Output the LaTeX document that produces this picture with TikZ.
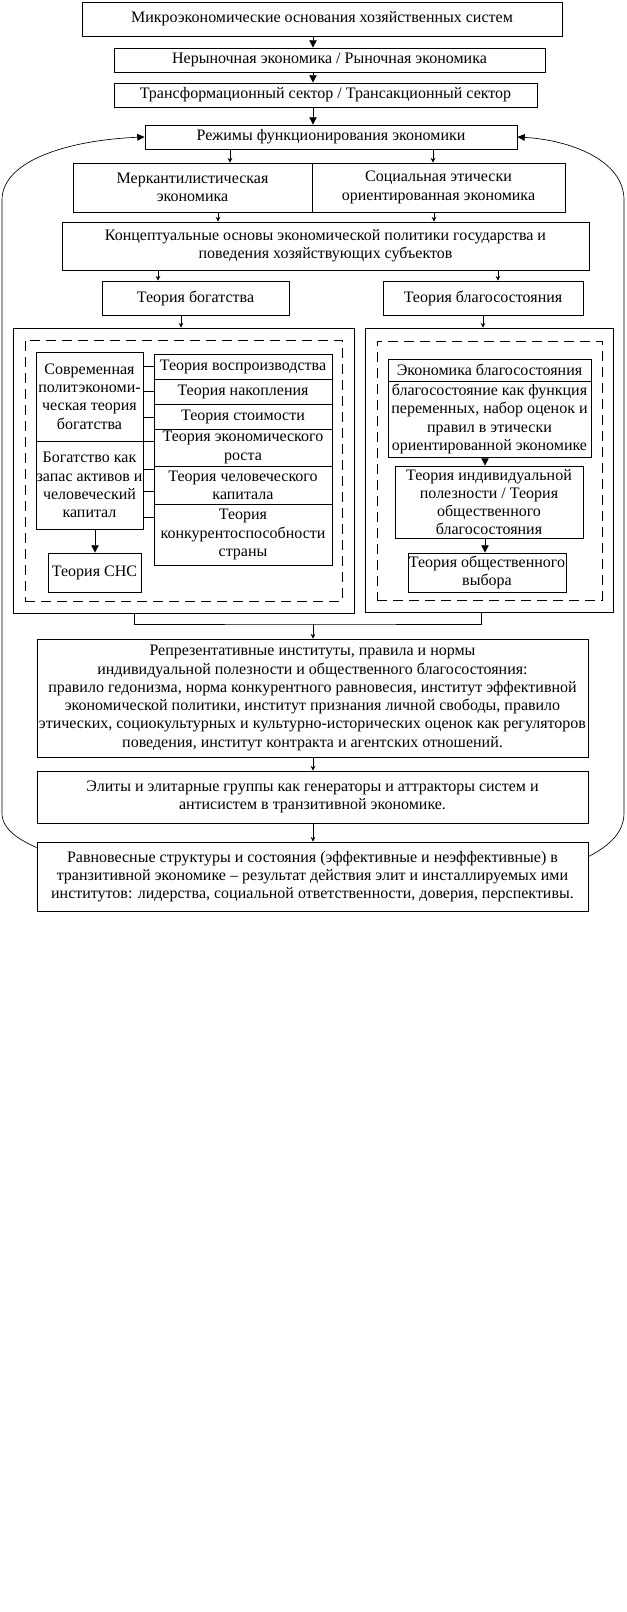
\documentclass[tikz,border=0pt]{standalone}
\usepackage{fontspec}
\setmainfont{Liberation Serif}
\usetikzlibrary{arrows.meta,calc}

\begin{document}
\begin{tikzpicture}[x=0.75pt,y=-0.75pt,
    box/.style={draw, line width=0.6pt, align=center, inner sep=0pt,
        font=\fontsize{12}{13.7}\selectfont},
    dashbox/.style={draw, line width=0.6pt, dash pattern=on 7.5pt off 4.5pt, inner sep=0pt},
    sz/.style 2 args={minimum width=#1*0.75pt, minimum height=#2*0.75pt},
    bigarr/.style={line width=0.6pt, -{Triangle[length=5.5pt,width=5.5pt]}},
    smallarr/.style={line width=0.5pt, -{Stealth[length=3.5pt,width=3.5pt]}},
    loop/.style={line width=0.5pt, -{Triangle[length=5.5pt,width=5pt]}}
]

\useasboundingbox[fill=white] (0,0) rectangle (626,1612);

% Upper chain
\node[box, sz={480}{34}] (micro) at (322,19) {Микроэкономические основания хозяйственных систем};
\node[box, sz={431}{24}] (nonmarket) at (329.5,60) {Нерыночная экономика / Рыночная экономика};
\node[box, sz={423}{24}] (sector) at (325.5,95) {Трансформационный сектор / Трансакционный сектор};
\node[box, sz={372}{24}] (regimes) at (331,137) {Режимы функционирования экономики};

% Two kinds of economy
\node[box, sz={239}{49}] (merc) at (192.5,187.5) {Меркантилистическая\\экономика};
\node[box, sz={253}{49}] (soc) at (438.5,187.5) {Социальная этически\\ориентированная экономика};

\node[box, sz={527}{48}] (concept) at (325.5,246) {Концептуальные основы экономической политики государства и\\поведения хозяйствующих субъектов};

\node[box, sz={187}{34}] (wealth) at (195.5,298) {Теория богатства};
\node[box, sz={200}{34}] (welfare) at (483,298) {Теория благосостояния};

% Left panel
\node[box, sz={341}{285}] (leftout) at (183.5,470.5) {};
\node[dashbox, sz={317}{261}] (leftdash) at (183.5,470.5) {};
\node[box, sz={107}{89}] (modern) at (89.5,396.5) {Современная\\политэкономи-\\ческая теория\\богатства};
\node[box, sz={107}{88}] (stock) at (89.5,485) {Богатство как\\запас активов и\\человеческий\\капитал};
\node[box, sz={178}{25}] (rc1) at (243,366.5) {Теория воспроизводства};
\node[box, sz={178}{25}] (rc2) at (243,391.5) {Теория накопления};
\node[box, sz={178}{25}] (rc3) at (243,416.5) {Теория стоимости};
\node[box, sz={178}{37}] (rc4) at (243,447.5) {Теория экономического\\роста};
\node[box, sz={178}{38}] (rc5) at (243,485) {Теория человеческого\\капитала};
\node[box, sz={178}{61}] (rc6) at (243,534.5) {Теория\\конкурентоспособности\\страны};
\node[box, sz={93}{39}] (sna) at (94.5,572.5) {Теория СНС};

% Right panel
\node[box, sz={248}{284}] (rightout) at (489,470) {};
\node[dashbox, sz={225}{259}] (rightdash) at (489.5,470.5) {};
\node[box, sz={203}{22}] (welfhead) at (489.5,370) {Экономика благосостояния};
\node[box, sz={203}{76}] (welfbody) at (489.5,419) {благосостояние как функция\\переменных, набор оценок и\\правил в этически\\ориентированной экономике};
\node[box, sz={188}{72}] (indiv) at (489,502) {Теория индивидуальной\\полезности / Теория\\общественного\\благосостояния};
\node[box, sz={158}{39}] (choice) at (487,572.5) {Теория общественного\\выбора};

% Lower chain
\node[box, sz={551}{118}] (repr) at (312.5,698) {Репрезентативные институты, правила и нормы\\индивидуальной полезности и общественного благосостояния:\\правило гедонизма, норма конкурентного равновесия, институт эффективной\\экономической политики, институт признания личной свободы, правило\\этических, социокультурных и культурно-исторических оценок как регуляторов\\поведения, институт контракта и агентских отношений.};
\node[box, sz={551}{52}] (elite) at (312.5,797) {Элиты и элитарные группы как генераторы и аттракторы систем и\\антисистем в транзитивной экономике.};
\node[box, sz={551}{69}] (equil) at (312.5,876.5) {Равновесные структуры и состояния (эффективные и неэффективные) в\\транзитивной экономике – результат действия элит и инсталлируемых ими\\институтов: лидерства, социальной ответственности, доверия, перспективы.};

% Arrow positions
\foreach \n/\x in {ax/313, am/230, as/433, bm/218, bs/434, bw/158, bf/498, pw/181, pf/483, sn/95, wf/485, bl/134, br/481}
    \coordinate (\n) at (\x,0);
\coordinate (jn) at (313,624);

% Arrows
\draw[bigarr] (micro.south -| ax) -- (nonmarket.north -| ax);
\draw[bigarr] (nonmarket.south -| ax) -- (sector.north -| ax);
\draw[bigarr] (sector.south -| ax) -- (regimes.north -| ax);
\draw[smallarr] (regimes.south -| am) -- (merc.north -| am);
\draw[smallarr] (regimes.south -| as) -- (soc.north -| as);
\draw[smallarr] (merc.south -| bm) -- (concept.north -| bm);
\draw[smallarr] (soc.south -| bs) -- (concept.north -| bs);
\draw[smallarr] (concept.south -| bw) -- (wealth.north -| bw);
\draw[smallarr] (concept.south -| bf) -- (welfare.north -| bf);
\draw[smallarr] (wealth.south -| pw) -- (leftout.north -| pw);
\draw[smallarr] (welfare.south -| pf) -- (rightout.north -| pf);

% Links inside the panels
\foreach \y in {366,391,417,441,469,491,517}
    \draw[line width=0.6pt] (modern.east |- 0,\y) -- (rc1.west |- 0,\y);
\draw[bigarr] (stock.south -| sn) -- (sna.north -| sn);
\draw[bigarr] (welfbody.south -| wf) -- (indiv.north -| wf);
\draw[bigarr] (indiv.south -| wf) -- (choice.north -| wf);

% Bracket and lower arrows
\draw[line width=0.6pt] (leftout.south -| bl) |- (jn) -| (rightout.south -| br);
\draw[smallarr] (jn) -- (repr.north -| jn);
\draw[smallarr] (repr.south -| ax) -- (elite.north -| ax);
\draw[smallarr] (elite.south -| ax) -- (equil.north -| ax);

% Feedback loops
\draw[loop] ($(equil.north west)+(0,6)$) .. controls (20,840) and (2,830) .. (2,813)
    -- (2,200) .. controls (2,160) and (70,140) .. (regimes.west);
\draw[loop] ($(equil.north east)+(0,15)$) .. controls (605,848) and (624,835) .. (624,813)
    -- (624,200) .. controls (624,160) and (570,140) .. (regimes.east);

\end{tikzpicture}
\end{document}
